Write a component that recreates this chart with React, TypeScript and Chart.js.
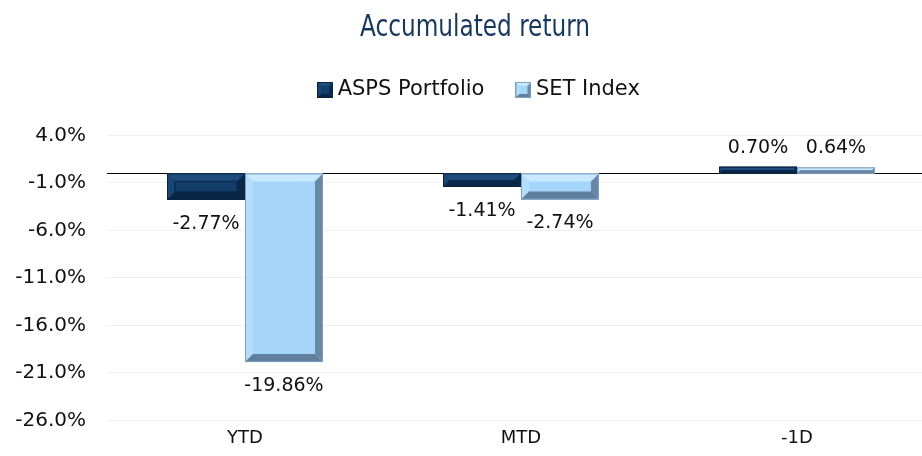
import { useEffect, useRef } from "react";
import { Chart, registerables } from "chart.js";

Chart.register(...registerables);

const categories = ["YTD", "MTD", "-1D"];
const seriesNames = ["ASPS Portfolio", "SET Index"];
const portfolioValues = [-2.77, -1.41, 0.7];
const setIndexValues = [-19.86, -2.74, 0.64];
const yAxisMin = -26;
const yAxisMax = 4;
const yAxisStep = 5;
const titleText = "Accumulated return";

type Palette = { face: string; top: string; left: string; bottom: string; right: string; edge: string; inner: string | null };

const portfolioPalette: Palette = {
  face: "#123d6a",
  top: "#1f4c7e",
  left: "#1a4675",
  bottom: "#0a2545",
  right: "#0b2848",
  edge: "#0a2340",
  inner: "#0b2c52",
};
const setPalette: Palette = {
  face: "#a6d5fb",
  top: "#c8e9ff",
  left: "#b3ddfd",
  bottom: "#5f7f9d",
  right: "#6888a6",
  edge: "#7d9fbd",
  inner: null,
};

function poly(ctx: CanvasRenderingContext2D, pts: number[][], color: string) {
  ctx.beginPath();
  ctx.moveTo(pts[0][0], pts[0][1]);
  for (let i = 1; i < pts.length; i++) ctx.lineTo(pts[i][0], pts[i][1]);
  ctx.closePath();
  ctx.fillStyle = color;
  ctx.fill();
}

function drawBevel(
  ctx: CanvasRenderingContext2D,
  left: number,
  top: number,
  right: number,
  bottom: number,
  pal: Palette,
  size: number
) {
  const w = right - left;
  const h = bottom - top;
  if (w <= 0 || h <= 0) return;
  const b = Math.max(1, Math.min(size, w / 2, h / 2));
  ctx.save();
  ctx.fillStyle = pal.face;
  ctx.fillRect(left, top, w, h);
  poly(ctx, [[left, top], [right, top], [right - b, top + b], [left + b, top + b]], pal.top);
  poly(ctx, [[left, top], [left + b, top + b], [left + b, bottom - b], [left, bottom]], pal.left);
  poly(ctx, [[left, bottom], [left + b, bottom - b], [right - b, bottom - b], [right, bottom]], pal.bottom);
  poly(ctx, [[right, top], [right, bottom], [right - b, bottom - b], [right - b, top + b]], pal.right);
  if (pal.inner && h - 2 * b > 2) {
    ctx.strokeStyle = pal.inner;
    ctx.lineWidth = 1.5;
    ctx.strokeRect(left + b, top + b, w - 2 * b, h - 2 * b);
  }
  ctx.strokeStyle = pal.edge;
  ctx.lineWidth = 1;
  ctx.strokeRect(left + 0.5, top + 0.5, w - 1, h - 1);
  ctx.restore();
}

function makeIcon(pal: Palette): HTMLCanvasElement {
  const c = document.createElement("canvas");
  c.width = 16;
  c.height = 16;
  const ctx = c.getContext("2d")!;
  drawBevel(ctx, 0, 0, 16, 16, { ...pal, inner: null }, 4);
  return c;
}

const palettes = [portfolioPalette, setPalette];

const bevelPlugin = {
  id: "bevelBars",
  afterDatasetsDraw(chart: any) {
    const ctx = chart.ctx as CanvasRenderingContext2D;
    chart.data.datasets.forEach((_ds: any, di: number) => {
      const meta = chart.getDatasetMeta(di);
      meta.data.forEach((bar: any) => {
        const { x, y, base, width } = bar.getProps(["x", "y", "base", "width"], true);
        const left = x - width / 2;
        const right = x + width / 2;
        const top = Math.min(y, base);
        const bottom = Math.max(y, base);
        drawBevel(ctx, left, top, right, bottom, palettes[di], 8);
      });
    });
  },
};

const zeroLinePlugin = {
  id: "zeroLine",
  beforeDatasetsDraw(chart: any) {
    const ctx = chart.ctx as CanvasRenderingContext2D;
    const yScale = chart.scales.y;
    const y0 = Math.round(yScale.getPixelForValue(0)) + 0.5;
    ctx.save();
    ctx.strokeStyle = "#000000";
    ctx.lineWidth = 1;
    ctx.beginPath();
    ctx.moveTo(chart.chartArea.left, y0);
    ctx.lineTo(chart.chartArea.right, y0);
    ctx.stroke();
    ctx.restore();
  },
};

const labelPlugin = {
  id: "valueLabels",
  afterDatasetsDraw(chart: any) {
    const ctx = chart.ctx as CanvasRenderingContext2D;
    ctx.save();
    ctx.font = '19px "DejaVu Sans"';
    ctx.fillStyle = "#111111";
    ctx.textAlign = "center";
    ctx.textBaseline = "middle";
    chart.data.datasets.forEach((ds: any, di: number) => {
      const meta = chart.getDatasetMeta(di);
      meta.data.forEach((bar: any, i: number) => {
        const v = ds.data[i] as number;
        const { x, y } = bar.getProps(["x", "y"], true);
        const ty = v < 0 ? y + 24 : y - 19;
        ctx.fillText(v.toFixed(2) + "%", x, ty);
      });
    });
    ctx.restore();
  },
};

const titleDrawPlugin = {
  id: "narrowTitle",
  afterDraw(chart: any) {
    const ctx = chart.ctx as CanvasRenderingContext2D;
    ctx.save();
    ctx.font = '30px "Liberation Sans Narrow", "DejaVu Sans Condensed", sans-serif';
    ctx.fillStyle = "#17375e";
    ctx.textAlign = "center";
    ctx.textBaseline = "middle";
    const sx = 0.86;
    ctx.scale(sx, 1);
    ctx.fillText(titleText, 475 / sx, 28);
    ctx.restore();
  },
};

const legendShiftPlugin = {
  id: "legendShift",
  afterLayout(chart: any) {
    if (chart.legend) {
      chart.legend.left += 14;
      chart.legend.right += 14;
    }
  },
};

export default function App() {
  const canvasRef = useRef<HTMLCanvasElement | null>(null);

  useEffect(() => {
    if (!canvasRef.current) return;
    const icons = [makeIcon(portfolioPalette), makeIcon(setPalette)];
    const chart = new Chart(canvasRef.current, {
      type: "bar",
      data: {
        labels: categories,
        datasets: [
          {
            label: seriesNames[0],
            data: portfolioValues,
            backgroundColor: portfolioPalette.face,
            borderWidth: 0,
            categoryPercentage: 0.565,
            barPercentage: 1,
          },
          {
            label: seriesNames[1],
            data: setIndexValues,
            backgroundColor: setPalette.face,
            borderWidth: 0,
            categoryPercentage: 0.565,
            barPercentage: 1,
          },
        ],
      },
      options: {
        responsive: false,
        animation: false,
        devicePixelRatio: 1,
        layout: { padding: { left: 0, right: 15, top: 0, bottom: 0 } },
        plugins: {
          title: {
            display: true,
            text: titleText,
            color: "rgba(0,0,0,0)",
            font: { family: '"Liberation Sans Narrow", sans-serif', size: 32, weight: "normal" },
            padding: { top: 0, bottom: 4 },
          },
          subtitle: {
            display: true,
            text: "",
            weight: 500,
            font: { size: 1, lineHeight: 1 },
            padding: { top: 24, bottom: 0 },
          } as any,
          legend: {
            display: true,
            labels: {
              color: "#111111",
              font: { family: '"DejaVu Sans"', size: 21 },
              usePointStyle: true,
              pointStyleWidth: 4,
              padding: 37,
              generateLabels: (c: any) => {
                const items = Chart.defaults.plugins.legend.labels.generateLabels(c);
                return items.map((it: any, i: number) => ({ ...it, pointStyle: icons[i] }));
              },
            },
          },
          tooltip: { enabled: false },
        },
        scales: {
          x: {
            grid: { display: false, drawTicks: false },
            border: { display: false },
            ticks: {
              color: "#111111",
              font: { family: '"DejaVu Sans"', size: 18 },
              padding: 7,
            },
          },
          y: {
            min: yAxisMin,
            max: yAxisMax,
            grid: { color: "#efefef", drawTicks: false },
            border: { display: false },
            ticks: {
              stepSize: yAxisStep,
              color: "#111111",
              font: { family: '"DejaVu Sans"', size: 20 },
              padding: 21,
              callback: (v: any) => Number(v).toFixed(1) + "%",
            },
            afterFit: (scale: any) => {
              scale.width = 107;
            },
          },
        },
      },
      plugins: [legendShiftPlugin, zeroLinePlugin, bevelPlugin, labelPlugin, titleDrawPlugin],
    });
    return () => chart.destroy();
  }, []);

  return (
    <div style={{ position: "absolute", left: 0, top: 0, width: 922, height: 456, overflow: "hidden", background: "#ffffff" }}>
      <canvas ref={canvasRef} width={950} height={456} style={{ width: 950, height: 456, display: "block" }} />
    </div>
  );
}
